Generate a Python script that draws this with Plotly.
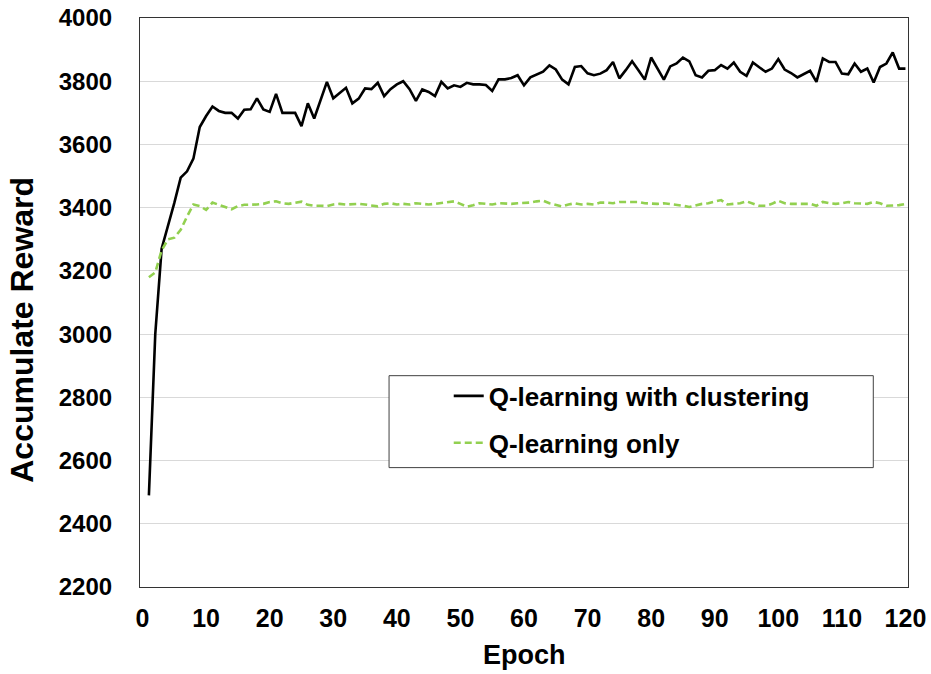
import plotly.graph_objects as go

epochs = list(range(1, 121))

with_clustering = [
    2490, 3000, 3270, 3340, 3415, 3495, 3515, 3555, 3655, 3690,
    3720, 3706, 3700, 3700, 3682, 3710, 3711, 3746, 3711, 3703,
    3760, 3700, 3700, 3700, 3658, 3730, 3682, 3740, 3798, 3746,
    3762, 3779, 3730, 3745, 3777, 3775, 3795, 3753, 3775, 3790,
    3800, 3775, 3738, 3774, 3766, 3753, 3798, 3777, 3787, 3782,
    3795, 3790, 3790, 3788, 3769, 3806, 3806, 3810, 3819, 3787,
    3812, 3822, 3830, 3850, 3837, 3805, 3790, 3845, 3848, 3825,
    3819, 3824, 3835, 3861, 3809, 3835, 3863, 3835, 3805, 3875,
    3840, 3805, 3847, 3856, 3875, 3863, 3819, 3812, 3833, 3835,
    3851, 3840, 3859, 3830, 3817, 3859, 3844, 3830, 3840, 3870,
    3837, 3826, 3812, 3822, 3833, 3798, 3872, 3861, 3861, 3824,
    3822, 3856, 3830, 3840, 3796, 3845, 3856, 3891, 3840, 3840,
]

q_only = [
    3180, 3195, 3265, 3300, 3305, 3330, 3372, 3410, 3405, 3393,
    3416, 3410, 3402, 3395, 3405, 3409, 3409, 3410, 3412, 3418,
    3420, 3414, 3412, 3416, 3419, 3409, 3406, 3406, 3405, 3410,
    3412, 3410, 3412, 3412, 3410, 3407, 3404, 3412, 3414, 3410,
    3412, 3410, 3414, 3412, 3410, 3412, 3414, 3418, 3420, 3412,
    3403, 3408, 3414, 3412, 3410, 3414, 3412, 3412, 3414, 3414,
    3416, 3420, 3422, 3414, 3408, 3404, 3410, 3414, 3410, 3412,
    3410, 3416, 3416, 3414, 3418, 3418, 3420, 3418, 3414, 3413,
    3412, 3414, 3412, 3410, 3406, 3402, 3408, 3412, 3414, 3418,
    3424, 3410, 3412, 3414, 3420, 3412, 3406, 3406, 3412, 3422,
    3414, 3412, 3412, 3414, 3412, 3406, 3418, 3414, 3412, 3414,
    3418, 3414, 3414, 3412, 3418, 3414, 3406, 3406, 3408, 3412,
]

x_ticks = list(range(0, 121, 10))
y_ticks = list(range(2200, 4001, 200))

FONT = "Liberation Sans, Arial, sans-serif"

fig = go.Figure()
fig.add_trace(go.Scatter(
    x=epochs, y=with_clustering, mode="lines", name="Q-learning with clustering",
    line=dict(color="#000000", width=2.6), legendgroup="a",
))
fig.add_trace(go.Scatter(
    x=epochs, y=q_only, mode="lines", name="Q-learning only",
    line=dict(color="#92D050", width=2.6, dash="7px,4px"), legendgroup="b",
))

fig.update_layout(
    width=931, height=674,
    margin=dict(l=140, r=23, t=18, b=87),
    paper_bgcolor="white", plot_bgcolor="white",
    showlegend=True,
    legend=dict(
        x=0.402, y=0.377, xanchor="left", yanchor="top",
        bgcolor="rgba(0,0,0,0)", borderwidth=0,
        font=dict(family=FONT, size=26, color="#000000", weight="bold"),
        traceorder="grouped", tracegroupgap=10,
    ),
    shapes=[dict(
        type="rect", xref="paper", yref="paper",
        x0=0.3243, x1=0.9548, y0=0.2098, y1=0.3714,
        line=dict(color="#404040", width=1), fillcolor="white", layer="above",
    )],
    annotations=[
        dict(text="Accumulate Reward", xref="paper", yref="paper",
             x=-0.1537, y=0.452, xanchor="center", yanchor="middle",
             textangle=-90, showarrow=False,
             font=dict(family=FONT, size=32, color="#000000", weight="bold")),
        dict(text="Epoch", xref="paper", yref="paper",
             x=0.5, y=-0.1201, xanchor="center", yanchor="middle",
             showarrow=False,
             font=dict(family=FONT, size=27, color="#000000", weight="bold")),
    ],
)

fig.update_xaxes(
    range=[-0.4, 120.4], tickmode="array", tickvals=x_ticks,
    ticktext=[str(t) for t in x_ticks],
    showgrid=False, zeroline=False, automargin=False,
    showline=True, linecolor="#333333", linewidth=1.2, mirror=True,
    ticks="", ticklabelstandoff=9,
    tickfont=dict(family=FONT, size=25, color="#000000", weight="bold"),
)
fig.update_yaxes(
    range=[2200, 4000], tickmode="array", tickvals=y_ticks,
    ticktext=[str(t) for t in y_ticks],
    showgrid=True, gridcolor="#D9D9D9", gridwidth=1, zeroline=False, automargin=False,
    showline=True, linecolor="#333333", linewidth=1.2, mirror=True,
    ticks="", ticklabelstandoff=22,
    tickfont=dict(family=FONT, size=24, color="#000000", weight="bold"),
)

fig.write_html("out.html", config={"displayModeBar": False},
               post_script="document.body.style.margin='0px';")
